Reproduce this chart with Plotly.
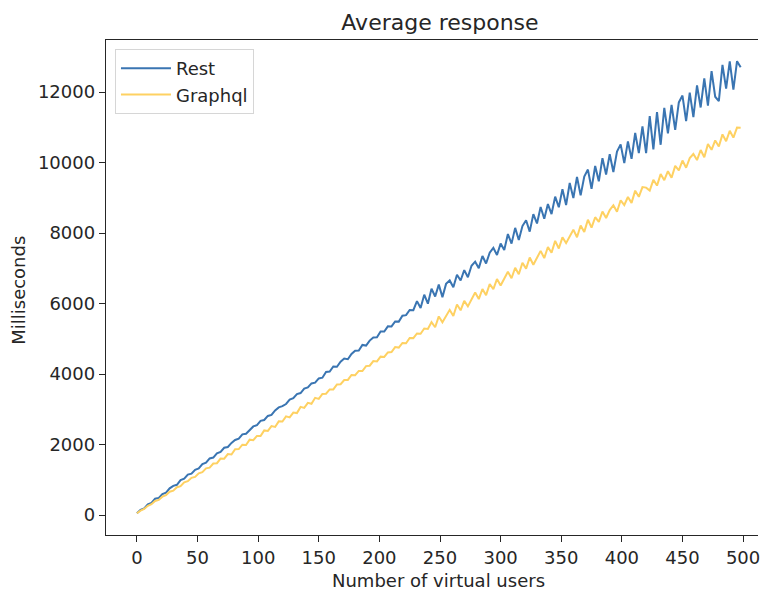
import plotly.graph_objects as go

# Number of virtual users (sampled every 3 users)
users = list(range(0, 499, 3))

rest_ms = [
    50, 146, 187, 304, 345, 461, 487, 593, 635, 756,
    827, 858, 989, 1031, 1147, 1173, 1284, 1320, 1442, 1483,
    1604, 1630, 1751, 1793, 1909, 1930, 2046, 2129, 2166, 2288,
    2306, 2422, 2513, 2550, 2671, 2695, 2811, 2841, 2966, 3052,
    3088, 3149, 3272, 3312, 3431, 3459, 3585, 3619, 3733, 3754,
    3875, 3896, 4057, 4069, 4215, 4206, 4347, 4438, 4420, 4571,
    4662, 4668, 4824, 4806, 4947, 5038, 5039, 5205, 5207, 5353,
    5349, 5490, 5486, 5653, 5669, 5815, 5811, 6067, 5874, 6250,
    5996, 6422, 6198, 6535, 6181, 6557, 6653, 6459, 6816, 6652,
    6948, 6744, 7070, 7187, 7003, 7349, 7135, 7441, 7578, 7374,
    7700, 7516, 7972, 7699, 8145, 7801, 8197, 8363, 8040, 8536,
    8272, 8738, 8404, 8821, 8537, 9033, 8729, 9245, 8792, 9418,
    8994, 9590, 9066, 9603, 9799, 9255, 9901, 9467, 10124, 9660,
    10236, 9732, 10308, 10515, 9981, 10597, 10103, 10839, 10266, 11022,
    10268, 11314, 10370, 11427, 10503, 11549, 10825, 11631, 10928, 11704,
    11900, 11176, 11982, 11289, 12185, 11561, 12387, 11613, 12590, 11866,
    11742, 12768, 12094, 12871, 12067, 12873, 12699,
]

graphql_ms = [
    50, 126, 171, 262, 308, 399, 429, 520, 566, 661,
    692, 788, 818, 929, 960, 1056, 1081, 1182, 1218, 1323,
    1344, 1460, 1470, 1601, 1597, 1728, 1718, 1869, 1870, 1995,
    1986, 2137, 2122, 2243, 2239, 2400, 2385, 2521, 2497, 2657,
    2653, 2799, 2769, 2905, 2891, 3067, 3037, 3183, 3154, 3324,
    3295, 3436, 3441, 3562, 3563, 3704, 3709, 3830, 3831, 3971,
    3967, 4088, 4083, 4224, 4235, 4366, 4356, 4492, 4483, 4613,
    4624, 4765, 4750, 4881, 4872, 5023, 5018, 5149, 5140, 5290,
    5276, 5472, 5327, 5633, 5469, 5625, 5820, 5646, 5972, 5807,
    6073, 5919, 6104, 6310, 6126, 6412, 6237, 6553, 6409, 6694,
    6510, 6686, 6901, 6717, 7013, 6829, 7154, 6990, 7306, 7101,
    7287, 7493, 7288, 7604, 7440, 7776, 7561, 7877, 7713, 7888,
    8094, 7880, 8215, 8031, 8377, 8153, 8448, 8314, 8610, 8425,
    8651, 8787, 8602, 8928, 8794, 9020, 8855, 9201, 9027, 9302,
    9288, 9204, 9509, 9345, 9671, 9497, 9752, 9568, 9904, 9779,
    10055, 9851, 10126, 10242, 10068, 10354, 10149, 10525, 10361, 10626,
    10452, 10798, 10603, 10899, 10705, 10991, 10986,
]

x_ticks = [0, 50, 100, 150, 200, 250, 300, 350, 400, 450, 500]
x_tick_labels = ["0", "50", "100", "150", "200", "250", "300", "350", "400", "450", "500"]
y_ticks = [0, 2000, 4000, 6000, 8000, 10000, 12000]
y_tick_labels = ["0", "2000", "4000", "6000", "8000", "10000", "12000"]

BLUE = "#3a75b2"
YELLOW = "#fed162"
FONT = "DejaVu Sans"
INK = "#262626"

fig = go.Figure()
fig.add_trace(go.Scatter(x=users, y=rest_ms, mode="lines", name="Rest",
                         line=dict(color=BLUE, width=2)))
fig.add_trace(go.Scatter(x=users, y=graphql_ms, mode="lines", name="Graphql",
                         line=dict(color=YELLOW, width=2)))

axis_common = dict(showgrid=False, zeroline=False, showline=True,
                   linecolor=INK, linewidth=1.4,
                   ticks="outside", ticklen=6, tickwidth=1.4, tickcolor=INK,
                   ticklabeloverflow="allow",
                   tickfont=dict(family=FONT, size=18, color=INK))

fig.update_layout(
    width=760, height=594,
    margin=dict(l=106, r=0, t=40, b=59),
    paper_bgcolor="white", plot_bgcolor="white",
    font=dict(family=FONT, size=18, color=INK),
    title=dict(text="Average response", x=440 / 760, xanchor="center",
               xref="container", y=1 - 22 / 594, yanchor="middle",
               yref="container", font=dict(family=FONT, size=22, color=INK)),
    xaxis=dict(range=[-25.5, 512.3], tickvals=x_ticks, ticktext=x_tick_labels,
               mirror=True, **axis_common),
    yaxis=dict(range=[-567, 13475], tickvals=y_ticks, ticktext=y_tick_labels,
               mirror=False, **axis_common),
    legend=dict(x=(115 - 106) / 654, y=(535 - 49) / 495, xanchor="left", yanchor="top",
                bgcolor="white", bordercolor="#d6d6d6", borderwidth=1, itemwidth=50,
                font=dict(family=FONT, size=18, color=INK)),
    showlegend=True,
    annotations=[
        dict(text="Number of virtual users", xref="paper", yref="paper",
             x=(440 - 106) / 654, y=(535 - 580) / 495, xanchor="center", yanchor="middle",
             showarrow=False, font=dict(family=FONT, size=18, color=INK)),
        dict(text="Milliseconds", xref="paper", yref="paper",
             x=(17.5 - 106) / 654, y=(535 - 290) / 495, xanchor="center", yanchor="middle",
             textangle=-90, showarrow=False, font=dict(family=FONT, size=18, color=INK)),
    ],
)

fig.write_html("out.html",
               config={"displayModeBar": False},
               post_script="document.body.style.margin='0';document.body.style.overflow='hidden';")
